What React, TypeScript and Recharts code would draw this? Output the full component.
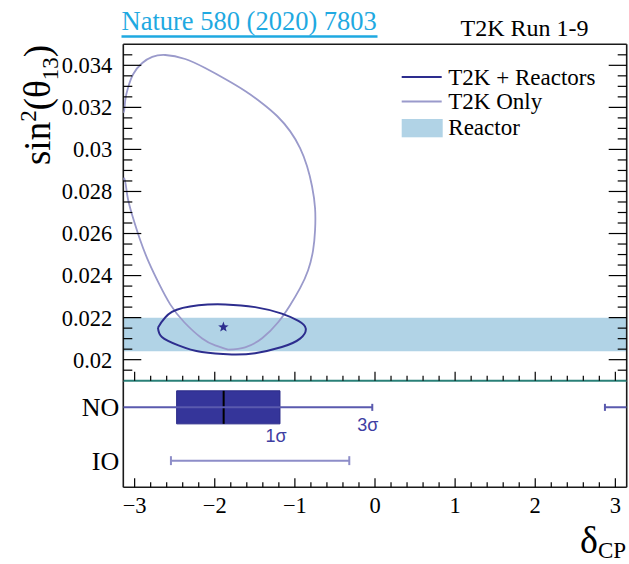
import React from 'react';
import {
  ComposedChart,
  Scatter,
  XAxis,
  YAxis,
  ReferenceArea,
  ReferenceLine,
  ReferenceDot,
  Label,
} from 'recharts';

// ---------- data ----------
const X_TICKS = [-3, -2.8, -2.6, -2.4, -2.2, -2, -1.8, -1.6, -1.4, -1.2, -1, -0.8, -0.6, -0.4, -0.2, 0, 0.2, 0.4, 0.6, 0.8, 1, 1.2, 1.4, 1.6, 1.8, 2, 2.2, 2.4, 2.6, 2.8, 3];
const X_MAJOR = [-3, -2, -1, 0, 1, 2, 3];
const X_LABELS = ['−3', '−2', '−1', '0', '1', '2', '3'];

const Y_TICKS = [0.0195, 0.02, 0.0205, 0.021, 0.0215, 0.022, 0.0225, 0.023, 0.0235, 0.024, 0.0245, 0.025, 0.0255, 0.026, 0.0265, 0.027, 0.0275, 0.028, 0.0285, 0.029, 0.0295, 0.03, 0.0305, 0.031, 0.0315, 0.032, 0.0325, 0.033, 0.0335, 0.034, 0.0345];
const Y_MAJOR = [0.02, 0.022, 0.024, 0.026, 0.028, 0.03, 0.032, 0.034];
const Y_LABELS = ['0.02', '0.022', '0.024', '0.026', '0.028', '0.03', '0.032', '0.034'];

const X_DOMAIN: [number, number] = [-Math.PI, Math.PI];
const Y_DOMAIN: [number, number] = [0.019, 0.035];

// reactor constraint band on sin^2(theta13)
const REACTOR_BAND = [0.0204, 0.022];

// T2K only 90% contour
const t2kOnly = [
  { x: -1.833, y: 0.02048 },
  { x: -1.621, y: 0.02059 },
  { x: -1.409, y: 0.02102 },
  { x: -1.209, y: 0.02178 },
  { x: -1.06, y: 0.02259 },
  { x: -0.935, y: 0.0234 },
  { x: -0.835, y: 0.02425 },
  { x: -0.773, y: 0.0252 },
  { x: -0.748, y: 0.02616 },
  { x: -0.748, y: 0.0272 },
  { x: -0.786, y: 0.02825 },
  { x: -0.848, y: 0.0292 },
  { x: -0.935, y: 0.03006 },
  { x: -1.06, y: 0.03087 },
  { x: -1.222, y: 0.03159 },
  { x: -1.409, y: 0.0322 },
  { x: -1.621, y: 0.03278 },
  { x: -1.87, y: 0.03335 },
  { x: -2.12, y: 0.03387 },
  { x: -2.369, y: 0.0343 },
  { x: -2.618, y: 0.03449 },
  { x: -2.78, y: 0.0344 },
  { x: -2.905, y: 0.03411 },
  { x: -3.017, y: 0.03359 },
  { x: -3.08, y: 0.03297 },
  { x: -3.117, y: 0.03235 },
  { x: -3.136, y: 0.03178 },
  { x: -3.17, y: 0.0314 },
  { x: -3.17, y: 0.0288 },
  { x: -3.13, y: 0.02863 },
  { x: -3.092, y: 0.02782 },
  { x: -3.03, y: 0.02687 },
  { x: -2.93, y: 0.02568 },
  { x: -2.818, y: 0.02459 },
  { x: -2.693, y: 0.02359 },
  { x: -2.556, y: 0.02263 },
  { x: -2.381, y: 0.02178 },
  { x: -2.157, y: 0.02101 },
  { x: -1.995, y: 0.02068 },
  { x: -1.833, y: 0.02048 },
];

// T2K + reactors 90% contour
const t2kReactors = [
  { x: -2.709, y: 0.02152 },
  { x: -2.535, y: 0.02227 },
  { x: -2.203, y: 0.02259 },
  { x: -1.87, y: 0.02263 },
  { x: -1.496, y: 0.0225 },
  { x: -1.163, y: 0.02219 },
  { x: -0.956, y: 0.02184 },
  { x: -0.864, y: 0.02148 },
  { x: -0.935, y: 0.021 },
  { x: -1.163, y: 0.0206 },
  { x: -1.496, y: 0.02031 },
  { x: -1.787, y: 0.02025 },
  { x: -2.161, y: 0.02036 },
  { x: -2.453, y: 0.02068 },
  { x: -2.66, y: 0.02108 },
  { x: -2.709, y: 0.02152 },
];

const bestFit = [{ x: -1.892, y: 0.02155 }];

// lower panel: intervals on delta_CP
const ROWS = ['NO', 'IO'];
const ROW_Y = [0.75, 0.25];
const NO_1SIGMA = [-2.476, -1.186];
const NO_BEST = -1.889;
const NO_3SIGMA_A = [-Math.PI, -0.034];
const NO_3SIGMA_B = [2.87, Math.PI];
const IO_3SIGMA = [-2.547, -0.321];
const SIGMA_LABELS = [
  { text: '1σ', x: -1.235, y: 0.481 },
  { text: '3σ', x: -0.091, y: 0.584 },
];

// ---------- styling ----------
const SERIF = "'Liberation Serif', 'Times New Roman', serif";
const SANS = "'Liberation Sans', Arial, sans-serif";
const W = 629;
const H = 564;
const FRAME = '#1a1a1a';
const TEAL = '#2a8078';
const DARK = '#2d2d8e';
const LIGHT = '#9a9acb';
const BAND = '#b1d3e6';
const BOX = '#35359a';
const NO_LINE = '#5a5aae';
const IO_LINE = '#8d8dc8';

const isMajorX = (v: number) => X_MAJOR.indexOf(v);
const isMajorY = (v: number) => Y_MAJOR.indexOf(v);

function XTick(props: any) {
  const { x, y, payload, dir, showLabel } = props;
  const i = isMajorX(payload.value);
  const len = i >= 0 ? 9 : 5;
  return (
    <g>
      <line x1={x} x2={x} y1={y} y2={y + dir * len} stroke="#000" strokeWidth={1.2} />
      {showLabel && i >= 0 && (
        <text x={x} y={y + 26} textAnchor="middle" fontSize={22.5} fontFamily={SERIF} fill="#000">
          {X_LABELS[i]}
        </text>
      )}
    </g>
  );
}

function YTick(props: any) {
  const { x, y, payload, dir, showLabel } = props;
  const i = isMajorY(payload.value);
  const len = i >= 0 ? 18 : 9;
  return (
    <g>
      <line x1={x} x2={x + dir * len} y1={y} y2={y} stroke="#000" strokeWidth={1.2} />
      {showLabel && i >= 0 && (
        <text x={x - 11} y={y} dy="0.35em" textAnchor="end" fontSize={22.5} fontFamily={SERIF} fill="#000">
          {Y_LABELS[i]}
        </text>
      )}
    </g>
  );
}

function RowTick(props: any) {
  const { x, y, payload } = props;
  const i = ROW_Y.indexOf(payload.value);
  return (
    <text x={x - 4} y={y} dy="0.35em" textAnchor="end" fontSize={26} fontFamily={SERIF} fill="#000">
      {ROWS[i]}
    </text>
  );
}

const StarShape = (props: any) => {
  const { cx, cy } = props;
  const pts: string[] = [];
  for (let k = 0; k < 10; k++) {
    const r = k % 2 === 0 ? 5.5 : 2.3;
    const a = -Math.PI / 2 + (k * Math.PI) / 5;
    pts.push(`${cx + r * Math.cos(a)},${cy + r * Math.sin(a)}`);
  }
  return <polygon points={pts.join(' ')} fill={DARK} />;
};

const NoShape = () => <g />;

const axisLine = { stroke: FRAME, strokeWidth: 1.6 };

function UpperPanel() {
  return (
    <ComposedChart
      width={W}
      height={H}
      margin={{ top: 43.3, bottom: 182.3, left: 122.3, right: 1.3 }}
    >
      <XAxis
        xAxisId="b"
        type="number"
        dataKey="x"
        domain={X_DOMAIN}
        allowDataOverflow
        ticks={X_TICKS}
        interval={0}
        height={1}
        tickSize={0}
        tickMargin={0}
        tickLine={false}
        axisLine={{ stroke: TEAL, strokeWidth: 2 }}
        tick={(p: any) => <XTick {...p} dir={-1} showLabel={false} />}
      />
      <XAxis
        xAxisId="t"
        orientation="top"
        type="number"
        domain={X_DOMAIN}
        allowDataOverflow
        ticks={X_TICKS}
        interval={0}
        height={1}
        tickSize={0}
        tickMargin={0}
        tickLine={false}
        axisLine={axisLine}
        tick={(p: any) => <XTick {...p} dir={1} showLabel={false} />}
      />
      <YAxis
        yAxisId="l"
        type="number"
        dataKey="y"
        domain={Y_DOMAIN}
        allowDataOverflow
        ticks={Y_TICKS}
        interval={0}
        width={1}
        tickSize={0}
        tickMargin={0}
        tickLine={false}
        axisLine={axisLine}
        tick={(p: any) => <YTick {...p} dir={1} showLabel={true} />}
      />
      <YAxis
        yAxisId="r"
        orientation="right"
        type="number"
        domain={Y_DOMAIN}
        allowDataOverflow
        ticks={Y_TICKS}
        interval={0}
        width={1}
        tickSize={0}
        tickMargin={0}
        tickLine={false}
        axisLine={axisLine}
        tick={(p: any) => <YTick {...p} dir={-1} showLabel={false} />}
      />
      <ReferenceArea
        xAxisId="b"
        yAxisId="l"
        x1={X_DOMAIN[0]}
        x2={X_DOMAIN[1]}
        y1={REACTOR_BAND[0]}
        y2={REACTOR_BAND[1]}
        fill={BAND}
        fillOpacity={1}
        stroke="none"
      />
      <Scatter
        xAxisId="b"
        yAxisId="l"
        data={t2kOnly}
        line={{ stroke: LIGHT, strokeWidth: 1.8 }}
        lineJointType="natural"
        shape={NoShape}
        isAnimationActive={false}
      />
      <Scatter
        xAxisId="b"
        yAxisId="l"
        data={t2kReactors}
        line={{ stroke: DARK, strokeWidth: 2 }}
        lineJointType="natural"
        shape={NoShape}
        isAnimationActive={false}
      />
      <Scatter
        xAxisId="b"
        yAxisId="l"
        data={bestFit}
        shape={StarShape}
        isAnimationActive={false}
      />
    </ComposedChart>
  );
}

function LowerPanel() {
  const noY = ROW_Y[0];
  const ioY = ROW_Y[1];
  const noA = [{ x: NO_3SIGMA_A[0], y: noY }, { x: NO_3SIGMA_A[1], y: noY }];
  const noB = [{ x: NO_3SIGMA_B[0], y: noY }, { x: NO_3SIGMA_B[1], y: noY }];
  const io = [{ x: IO_3SIGMA[0], y: ioY }, { x: IO_3SIGMA[1], y: ioY }];
  const seg = (x1: number, y1: number, x2: number, y2: number, stroke: string, w: number, key: string) => (
    <ReferenceLine
      key={key}
      xAxisId="b"
      yAxisId="l"
      segment={[{ x: x1, y: y1 }, { x: x2, y: y2 }]}
      stroke={stroke}
      strokeWidth={w}
      ifOverflow="visible"
    />
  );
  const whisker = (data: any[], stroke: string, key: string) => (
    <Scatter
      key={key}
      xAxisId="b"
      yAxisId="l"
      data={data}
      line={{ stroke, strokeWidth: 2 }}
      shape={NoShape}
      isAnimationActive={false}
    />
  );
  return (
    <ComposedChart
      width={W}
      height={H}
      margin={{ top: 379.7, bottom: 75.7, left: 122.3, right: 1.3 }}
    >
      <XAxis
        xAxisId="b"
        type="number"
        dataKey="x"
        domain={X_DOMAIN}
        allowDataOverflow
        ticks={X_TICKS}
        interval={0}
        height={1}
        tickSize={0}
        tickMargin={0}
        tickLine={false}
        axisLine={axisLine}
        tick={(p: any) => <XTick {...p} dir={-1} showLabel={true} />}
      />
      <XAxis
        xAxisId="t"
        orientation="top"
        type="number"
        domain={X_DOMAIN}
        allowDataOverflow
        ticks={X_TICKS}
        interval={0}
        height={1}
        tickSize={0}
        tickMargin={0}
        tickLine={false}
        axisLine={false}
        tick={(p: any) => <XTick {...p} dir={1} showLabel={false} />}
      />
      <YAxis
        yAxisId="l"
        type="number"
        dataKey="y"
        domain={[0, 1]}
        allowDataOverflow
        ticks={ROW_Y}
        interval={0}
        width={1}
        tickSize={0}
        tickMargin={0}
        tickLine={false}
        axisLine={axisLine}
        tick={(p: any) => <RowTick {...p} />}
      />
      <YAxis
        yAxisId="r"
        orientation="right"
        type="number"
        domain={[0, 1]}
        allowDataOverflow
        width={1}
        tick={false}
        tickLine={false}
        axisLine={axisLine}
      />
      {whisker(noA, NO_LINE, 'noa')}
      {whisker(noB, NO_LINE, 'nob')}
      {whisker(io, IO_LINE, 'io')}
      {seg(NO_3SIGMA_A[1], noY - 0.033, NO_3SIGMA_A[1], noY + 0.033, NO_LINE, 2, 'noacap')}
      {seg(NO_3SIGMA_B[0], noY - 0.033, NO_3SIGMA_B[0], noY + 0.033, NO_LINE, 2, 'nobcap')}
      <ReferenceArea
        xAxisId="b"
        yAxisId="l"
        x1={NO_1SIGMA[0]}
        x2={NO_1SIGMA[1]}
        y1={noY - 0.155}
        y2={noY + 0.155}
        fill={BOX}
        fillOpacity={1}
        stroke="#2a2a88"
        strokeWidth={1}
      />
      {seg(NO_BEST, noY - 0.155, NO_BEST, noY + 0.155, '#000', 2, 'med')}
      {seg(IO_3SIGMA[0], ioY - 0.042, IO_3SIGMA[0], ioY + 0.042, IO_LINE, 2, 'iocap1')}
      {seg(IO_3SIGMA[1], ioY - 0.042, IO_3SIGMA[1], ioY + 0.042, IO_LINE, 2, 'iocap2')}
      {SIGMA_LABELS.map((s) => (
        <ReferenceDot key={s.text} xAxisId="b" yAxisId="l" x={s.x} y={s.y} r={0} fill="none" stroke="none">
          <Label value={s.text} position="center" fill="#3e3ea2" fontSize={18} fontFamily={SANS} />
        </ReferenceDot>
      ))}
    </ComposedChart>
  );
}

function Overlay() {
  return (
    <svg width={W} height={H} style={{ position: 'absolute', left: 0, top: 0, pointerEvents: 'none' }}>
      <text x={121.5} y={30} fontSize={26.5} fontFamily={SERIF} fill="#1fa9e1">
        Nature 580 (2020) 7803
      </text>
      <line x1={121.5} x2={377.5} y1={36.5} y2={36.5} stroke="#1fa9e1" strokeWidth={2.5} />
      <text x={460.5} y={36} fontSize={24} fontFamily={SERIF} fill="#000">
        T2K Run 1-9
      </text>
      <text transform="rotate(-90)" x={-105} y={50} textAnchor="middle" fontSize={37} fontFamily={SERIF} fill="#000">
        sin
        <tspan fontSize={23} dy={-14}>2</tspan>
        <tspan dy={14}>(θ</tspan>
        <tspan fontSize={23} dy={8}>13</tspan>
        <tspan dy={-8}>)</tspan>
      </text>
      <text x={580} y={553} fontSize={38} fontFamily={SERIF} fill="#000">
        δ<tspan fontSize={23} dy={5}>CP</tspan>
      </text>
      {/* legend */}
      <line x1={401.7} x2={441.7} y1={77} y2={77} stroke={DARK} strokeWidth={2} />
      <text x={448.3} y={84.5} fontSize={23} fontFamily={SERIF} fill="#000">T2K + Reactors</text>
      <line x1={401.7} x2={441.7} y1={101.5} y2={101.5} stroke={LIGHT} strokeWidth={2} />
      <text x={448.3} y={109} fontSize={23} fontFamily={SERIF} fill="#000">T2K Only</text>
      <rect x={401.7} y={119} width={41} height={18.3} fill={BAND} />
      <text x={448.3} y={135} fontSize={23} fontFamily={SERIF} fill="#000">Reactor</text>
    </svg>
  );
}

export default function App() {
  return (
    <div style={{ position: 'absolute', left: 0, top: 0, width: W, height: H, background: '#fff', overflow: 'hidden' }}>
      <div style={{ position: 'absolute', left: 0, top: 0 }}>
        <LowerPanel />
      </div>
      <div style={{ position: 'absolute', left: 0, top: 0 }}>
        <UpperPanel />
      </div>
      <Overlay />
    </div>
  );
}
